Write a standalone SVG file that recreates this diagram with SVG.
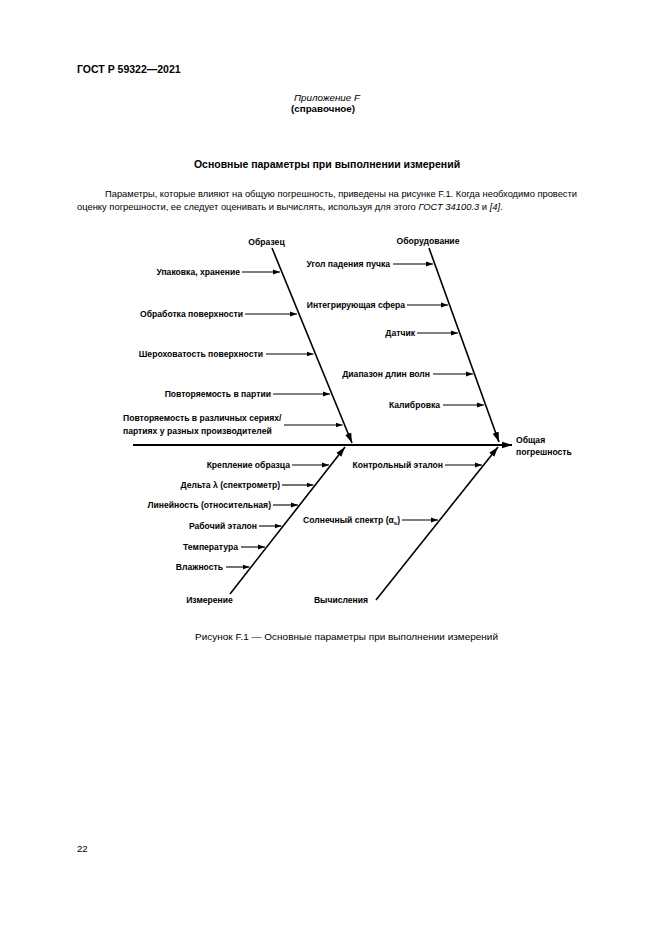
<svg xmlns="http://www.w3.org/2000/svg" width="661" height="935" viewBox="0 0 661 935">
<style>
text{font-family:"Liberation Sans",Arial,sans-serif;fill:#000}
.hd{font-size:10.5px;font-weight:bold}
.p{font-size:9.6px}
.t{font-size:8.6px;font-weight:bold}
.l{font-size:8.6px;font-weight:bold;text-anchor:end}
.c{text-anchor:middle}
.br{stroke:#000;stroke-width:1.6;fill:none}
.ar{stroke:#000;stroke-width:1.1;fill:none}
.sp{stroke:#000;stroke-width:2;fill:none}
</style>
<defs>
<marker id="sa" markerUnits="userSpaceOnUse" markerWidth="8" markerHeight="6" refX="7" refY="3" orient="auto"><path d="M0,0.6 L7,3 L0,5.4 Z" fill="#000"/></marker>
<marker id="la" markerUnits="userSpaceOnUse" markerWidth="11" markerHeight="8" refX="10" refY="4" orient="auto"><path d="M0,0.8 L10,4 L0,7.2 Z" fill="#000"/></marker>
</defs>
<rect width="661" height="935" fill="#fff"/>
<g id="page">
<text class="hd" x="77" y="73">ГОСТ Р 59322—2021</text>
<text x="327" y="101" class="c" style="font-size:9.8px;font-style:italic">Приложение F</text>
<text x="323" y="112" class="c" style="font-size:9.8px;font-weight:bold">(справочное)</text>
<text x="327" y="168" class="c hd">Основные параметры при выполнении измерений</text>
<text class="p" x="105" y="196.5" textLength="472" lengthAdjust="spacingAndGlyphs">Параметры, которые влияют на общую погрешность, приведены на рисунке F.1. Когда необходимо провести</text>
<text class="p" x="77" y="210" style="font-size:9.4px">оценку погрешности, ее следует оценивать и вычислять, используя для этого <tspan font-style="italic">ГОСТ 34100.3</tspan> и <tspan font-style="italic">[4]</tspan>.</text>
<text class="p" x="195" y="639.5" textLength="303" lengthAdjust="spacingAndGlyphs">Рисунок F.1 — Основные параметры при выполнении измерений</text>
<text class="p" x="77" y="852">22</text>
</g>
<g id="connectors">
<line class="sp" x1="133" y1="445" x2="512" y2="445" marker-end="url(#la)"/>
<line class="br" x1="272" y1="248" x2="352" y2="443" marker-end="url(#la)"/>
<line class="br" x1="429" y1="248" x2="499" y2="442" marker-end="url(#la)"/>
<line class="br" x1="230" y1="594" x2="345" y2="447" marker-end="url(#la)"/>
<line class="br" x1="376" y1="600" x2="498" y2="447" marker-end="url(#la)"/>
<line class="ar" x1="242" y1="272" x2="280" y2="272" marker-end="url(#sa)"/>
<line class="ar" x1="245" y1="314" x2="297" y2="314" marker-end="url(#sa)"/>
<line class="ar" x1="266" y1="354" x2="313.5" y2="354" marker-end="url(#sa)"/>
<line class="ar" x1="273" y1="394" x2="330" y2="394" marker-end="url(#sa)"/>
<line class="ar" x1="284" y1="425" x2="342.5" y2="425" marker-end="url(#sa)"/>
<line class="ar" x1="393" y1="264" x2="433" y2="264" marker-end="url(#sa)"/>
<line class="ar" x1="407" y1="305" x2="448" y2="305" marker-end="url(#sa)"/>
<line class="ar" x1="417" y1="333" x2="458" y2="333" marker-end="url(#sa)"/>
<line class="ar" x1="433" y1="374" x2="473" y2="374" marker-end="url(#sa)"/>
<line class="ar" x1="443" y1="405" x2="484" y2="405" marker-end="url(#sa)"/>
<line class="ar" x1="292" y1="465" x2="329" y2="465" marker-end="url(#sa)"/>
<line class="ar" x1="282" y1="485" x2="313.5" y2="485" marker-end="url(#sa)"/>
<line class="ar" x1="273" y1="505" x2="298" y2="505" marker-end="url(#sa)"/>
<line class="ar" x1="259" y1="526" x2="281.5" y2="526" marker-end="url(#sa)"/>
<line class="ar" x1="241" y1="547" x2="265" y2="547" marker-end="url(#sa)"/>
<line class="ar" x1="226" y1="567" x2="249.5" y2="567" marker-end="url(#sa)"/>
<line class="ar" x1="445" y1="465" x2="482" y2="465" marker-end="url(#sa)"/>
<line class="ar" x1="402" y1="520" x2="438" y2="520" marker-end="url(#sa)"/>
</g>
<g id="effect"><text class="t" x="516" y="443">Общая</text><text class="t" x="516" y="455">погрешность</text></g>
<g id="obrazec"><text class="t c" x="266.5" y="245">Образец</text></g>
<g id="oborudovanie"><text class="t c" x="428" y="243.5">Оборудование</text></g>
<g id="izmerenie"><text class="t c" x="209.5" y="603">Измерение</text></g>
<g id="vychisleniya"><text class="t c" x="341" y="603">Вычисления</text></g>
<g id="c-upakovka"><text class="l" x="240" y="275">Упаковка, хранение</text></g>
<g id="c-obrabotka"><text class="l" x="243" y="317">Обработка поверхности</text></g>
<g id="c-sherokh"><text class="l" x="263" y="357">Шероховатость поверхности</text></g>
<g id="c-povtor"><text class="l" x="271" y="397">Повторяемость в партии</text></g>
<g id="c-povtor2"><text class="t" x="123" y="421">Повторяемость в различных сериях/</text><text class="t" x="123" y="434">партиях у разных производителей</text></g>
<g id="c-ugol"><text class="l" x="390" y="267">Угол падения пучка</text></g>
<g id="c-sfera"><text class="l" x="405" y="308">Интегрирующая сфера</text></g>
<g id="c-datchik"><text class="l" x="415" y="336">Датчик</text></g>
<g id="c-diapazon"><text class="l" x="430" y="377">Диапазон длин волн</text></g>
<g id="c-kalibr"><text class="l" x="440" y="408">Калибровка</text></g>
<g id="c-kreplenie"><text class="l" x="290" y="468">Крепление образца</text></g>
<g id="c-delta"><text class="l" x="280" y="488">Дельта λ (спектрометр)</text></g>
<g id="c-lin"><text class="l" x="271" y="508">Линейность (относительная)</text></g>
<g id="c-rab"><text class="l" x="257" y="529">Рабочий эталон</text></g>
<g id="c-temp"><text class="l" x="238" y="550">Температура</text></g>
<g id="c-vlazh"><text class="l" x="223" y="570">Влажность</text></g>
<g id="c-kontr"><text class="l" x="443" y="468">Контрольный эталон</text></g>
<g id="c-solar"><text class="l" x="400" y="523">Солнечный спектр (α<tspan font-size="6" dy="2">s</tspan><tspan dy="-2">)</tspan></text></g>
</svg>
